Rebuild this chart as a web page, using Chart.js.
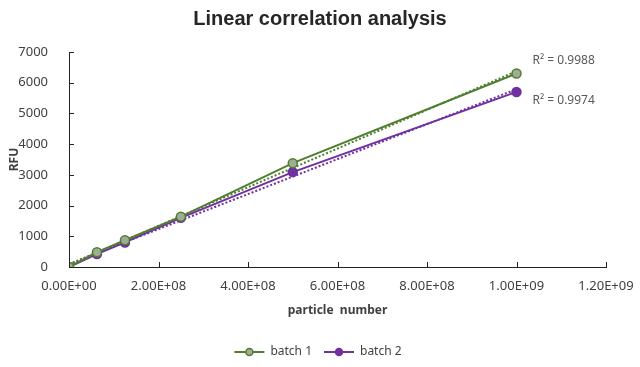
<!DOCTYPE html>
<html>
<head>
<meta charset="utf-8">
<script src="https://cdn.jsdelivr.net/npm/chart.js@4"></script>
<style>
  html, body { margin: 0; padding: 0; background: #fff; }
  #wrap { width: 640px; height: 367px; }
</style>
</head>
<body>
<div id="wrap"><canvas id="grafico"></canvas></div>
<script>
// dados
const particles = [0, 6.25e7, 1.25e8, 2.5e8, 5e8, 1e9];
const batch1 = [0, 480, 870, 1640, 3380, 6300];
const batch2 = [0, 420, 800, 1600, 3090, 5700];
const seriesNames = ['batch 1', 'batch 2'];
const r2Labels = ['R² = 0.9988', 'R² = 0.9974'];
const xTickLabels = ['0.00E+00', '2.00E+08', '4.00E+08', '6.00E+08', '8.00E+08', '1.00E+09', '1.20E+09'];
const yTickLabels = ['0', '1000', '2000', '3000', '4000', '5000', '6000', '7000'];
const chartTitle = 'Linear correlation analysis';

const green = '#4f7f2e';
const greenFill = '#9fac97';
const purple = '#7030a0';

// linha de tendência (mínimos quadrados, como no Excel)
function trend(xs, ys) {
  const n = xs.length;
  const mx = xs.reduce((a, b) => a + b, 0) / n;
  const my = ys.reduce((a, b) => a + b, 0) / n;
  let sxy = 0, sxx = 0;
  xs.forEach((x, i) => { sxy += (x - mx) * (ys[i] - my); sxx += (x - mx) * (x - mx); });
  const b = sxy / sxx, a = my - b * mx;
  const x0 = Math.min(...xs), x1 = Math.max(...xs);
  return [{x: x0, y: a + b * x0}, {x: x1, y: a + b * x1}];
}

const pts = (ys) => particles.map((x, i) => ({x: x, y: ys[i]}));

// título, marcas dos eixos para dentro, textos R² e legenda (linha + marcador)
const extras = {
  id: 'extras',
  afterDatasetsDraw(chart) {
    const ctx = chart.ctx;
    const xs = chart.scales.x, ys = chart.scales.y;
    const area = chart.chartArea;
    ctx.save();

    ctx.fillStyle = '#262626';
    ctx.font = 'bold 20px "Liberation Sans", Arial';
    ctx.textAlign = 'center';
    ctx.textBaseline = 'middle';
    ctx.fillText(chartTitle, 320, 19);
    ctx.textAlign = 'left';

    ctx.strokeStyle = '#222';
    ctx.lineWidth = 1;
    xs.ticks.forEach(t => {
      const px = Math.round(xs.getPixelForValue(t.value)) + 0.5;
      ctx.beginPath(); ctx.moveTo(px, area.bottom); ctx.lineTo(px, area.bottom - 5); ctx.stroke();
    });
    ys.ticks.forEach(t => {
      const py = Math.round(ys.getPixelForValue(t.value)) + 0.5;
      ctx.beginPath(); ctx.moveTo(area.left, py); ctx.lineTo(area.left + 5, py); ctx.stroke();
    });

    ctx.fillStyle = '#595959';
    ctx.font = '12px "Noto Sans"';
    const last = particles.length - 1;
    const lx = xs.getPixelForValue(particles[last]) + 16;
    ctx.fillText(r2Labels[0], lx, ys.getPixelForValue(batch1[last]) - 13);
    ctx.fillText(r2Labels[1], lx, ys.getPixelForValue(batch2[last]) + 9);

    // legenda
    const ds = chart.data.datasets.slice(0, 2);
    ctx.font = '12px "Noto Sans"';
    const widths = ds.map(d => ctx.measureText(d.label).width);
    const total = widths.reduce((a, w) => a + 30 + 6 + w, 0) + 12;
    let x = 318 - total / 2;
    const y = 352;
    ds.forEach((d, i) => {
      ctx.strokeStyle = d.borderColor; ctx.lineWidth = 2;
      ctx.beginPath(); ctx.moveTo(x, y); ctx.lineTo(x + 30, y); ctx.stroke();
      ctx.fillStyle = d.pointBackgroundColor; ctx.lineWidth = 1.5;
      ctx.beginPath(); ctx.arc(x + 15, y, 3.5, 0, Math.PI * 2); ctx.fill(); ctx.stroke();
      ctx.fillStyle = '#404040';
      ctx.fillText(d.label, x + 36, y);
      x += 36 + widths[i] + 12;
    });
    ctx.restore();
  }
};

const ctx = document.getElementById('grafico').getContext('2d');
new Chart(ctx, {
  type: 'line',
  data: {
    datasets: [
      {label: seriesNames[0], data: pts(batch1), borderColor: green, backgroundColor: greenFill,
       pointBackgroundColor: greenFill, pointBorderColor: green, pointRadius: 4.5, pointBorderWidth: 1.5,
       borderWidth: 2, tension: 0},
      {label: seriesNames[1], data: pts(batch2), borderColor: purple, backgroundColor: purple,
       pointBackgroundColor: purple, pointBorderColor: purple, pointRadius: 4.5, pointBorderWidth: 1.5,
       borderWidth: 2, tension: 0},
      {label: 'trend 1', data: trend(particles, batch1), borderColor: green, borderDash: [2, 2],
       borderWidth: 2, pointRadius: 0},
      {label: 'trend 2', data: trend(particles, batch2), borderColor: purple, borderDash: [2, 2],
       borderWidth: 2, pointRadius: 0}
    ]
  },
  options: {
    responsive: true,
    maintainAspectRatio: false,
    animation: false,
    layout: {padding: {left: 0, right: 34, top: 52, bottom: 0}},
    plugins: {
      title: {display: false},
      legend: {display: false},
      tooltip: {enabled: false}
    },
    scales: {
      x: {
        type: 'linear', min: 0, max: 1.2e9,
        afterBuildTicks(s) { s.ticks = xTickLabels.map((_, i) => ({value: i * 2e8})); },
        afterFit(s) { s.height = 100; },
        grid: {display: false},
        border: {display: true, color: '#222', width: 1},
        ticks: {padding: 3, color: '#404040', font: {family: '"Noto Sans"', size: 13},
                callback: (v, i) => xTickLabels[i]},
        title: {display: true, text: 'particle  number', color: '#404040',
                font: {family: '"Noto Sans"', size: 12, weight: 'bold'}, padding: {top: 4, bottom: 49}}
      },
      y: {
        min: 0, max: 7000,
        afterBuildTicks(s) { s.ticks = yTickLabels.map((_, i) => ({value: i * 1000})); },
        afterFit(s) { s.width = 69; },
        grid: {display: false},
        border: {display: true, color: '#222', width: 1},
        ticks: {padding: 13, color: '#404040', font: {family: '"Noto Sans"', size: 13},
                callback: (v, i) => yTickLabels[i]},
        title: {display: true, text: 'RFU', color: '#404040',
                font: {family: '"Noto Sans"', size: 12, weight: 'bold'}, padding: {top: 7, bottom: 0}}
      }
    }
  },
  plugins: [extras]
});
</script>
</body>
</html>
